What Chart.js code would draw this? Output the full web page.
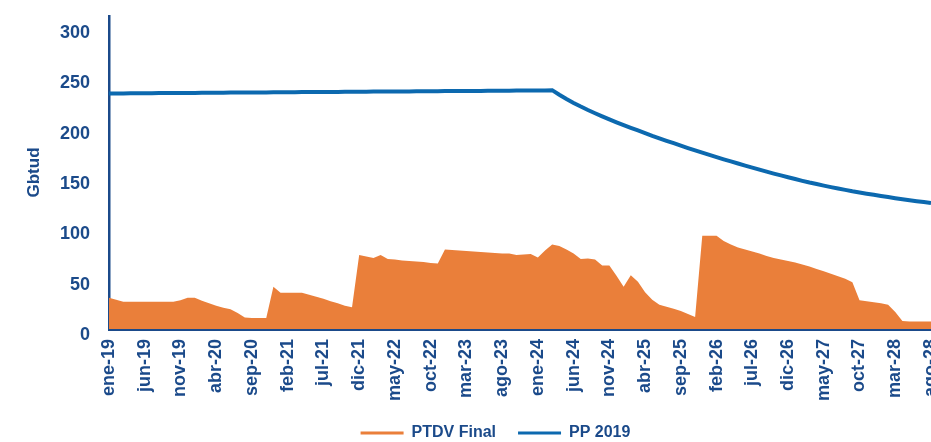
<!DOCTYPE html>
<html>
<head>
<meta charset="utf-8">
<script src="https://cdn.jsdelivr.net/npm/chart.js@4.4.1/dist/chart.umd.min.js"></script>
<style>
  html, body { margin: 0; padding: 0; background: #fff; }
  #wrap { width: 931px; height: 442px; position: relative; }
</style>
</head>
<body>
<div id="wrap"><canvas id="myChart"></canvas></div>
<script>
// months ene-19 .. ago-28
const monthNames = ['ene', 'feb', 'mar', 'abr', 'may', 'jun', 'jul', 'ago', 'sep', 'oct', 'nov', 'dic'];
const years = [19, 20, 21, 22, 23, 24, 25, 26, 27, 28];
const lastMonthIndex = 7; // ago-28

const labels = [];
years.forEach(function(y) {
  monthNames.forEach(function(m, i) {
    if (y < 28 || i <= lastMonthIndex) labels.push(m + '-' + y);
  });
});

// Gbtud
const ptdvFinal = [
  31, 29, 27, 27, 27, 27, 27, 27, 27, 27,
  28.5, 31, 31, 28, 25.5, 23, 21, 19.5, 16, 11.5,
  11, 11, 11, 42, 36, 36, 36, 36, 34, 32,
  30, 27.5, 25.5, 23, 21.5, 73.5, 72, 70.5, 73.5, 69.5,
  69, 68, 67.5, 67, 66.5, 65.5, 65, 79, 78.5, 78,
  77.5, 77, 76.5, 76, 75.5, 75, 75, 73.5, 74, 74.5,
  71, 78, 84, 82.5, 79, 75, 69.5, 70, 69, 63,
  63, 53, 42, 53.5, 47, 36.5, 29, 24, 22, 20,
  18, 15, 12, 92.7, 92.7, 92.7, 87.5, 84, 81, 79,
  77, 75, 72.5, 70.5, 69, 67.5, 66, 64, 62, 59.5,
  57.5, 55, 52.5, 50, 46.5, 28.5, 27.5, 26.5, 25.5, 24,
  17, 8, 7.5, 7.5, 7.5, 7.5
];

const pp2019 = [
  234, 234.1, 234.1, 234.2, 234.2, 234.3, 234.3, 234.4, 234.4, 234.5,
  234.5, 234.6, 234.6, 234.7, 234.7, 234.8, 234.8, 234.9, 234.9, 235,
  235, 235.1, 235.1, 235.2, 235.2, 235.3, 235.3, 235.4, 235.4, 235.5,
  235.5, 235.6, 235.6, 235.7, 235.7, 235.8, 235.8, 235.9, 235.9, 236,
  236, 236.1, 236.1, 236.2, 236.2, 236.3, 236.3, 236.4, 236.4, 236.5,
  236.5, 236.6, 236.6, 236.7, 236.7, 236.8, 236.8, 236.9, 236.9, 237,
  237, 237.1, 237.3, 232.7, 228.5, 224.6, 221, 217.6, 214.4, 211.3,
  208.3, 205.4, 202.6, 199.9, 197.3, 194.7, 192, 189.5, 187, 184.6,
  182.2, 179.8, 177.5, 175.2, 173, 170.8, 168.6, 166.5, 164.4, 162.4,
  160.4, 158.3, 156.3, 154.4, 152.6, 150.8, 149, 147.2, 145.5, 144,
  142.5, 141, 139.6, 138.2, 136.8, 135.6, 134.4, 133.3, 132.2, 131.1,
  130, 129, 128, 127, 126.1, 125.2
];

const yTicks = [0, 50, 100, 150, 200, 250, 300];

const navy = '#1B4A8A';
const orange = '#EA7F3A';
const blue = '#0C69AF';
const fontFamily = '"Liberation Sans", Arial, sans-serif';

// move the legend a bit to where it sits in the original
const legendShift = {
  id: 'legendShift',
  afterLayout(chart) {
    const lg = chart.legend;
    lg.left += 18;
    lg.right += 18;
  }
};

const ctx = document.querySelector('#myChart').getContext('2d');

// eslint-disable-next-line no-undef
new Chart(ctx, {
  type: 'line',
  data: {
    labels: labels,
    datasets: [{
      label: 'PTDV Final',
      data: ptdvFinal,
      fill: 'origin',
      backgroundColor: orange,
      borderColor: 'rgba(0,0,0,0)',
      borderWidth: 0,
      pointRadius: 0,
      tension: 0,
      order: 2,
    },
    {
      label: 'PP 2019',
      data: pp2019,
      fill: false,
      backgroundColor: blue,
      borderColor: blue,
      borderWidth: 4,
      pointRadius: 0,
      tension: 0,
      order: 1,
    }]
  },
  options: {
    responsive: true,
    maintainAspectRatio: false,
    animation: false,
    layout: {
      padding: { left: 24, right: 0, top: 16, bottom: 0 }
    },
    plugins: {
      tooltip: { enabled: false },
      legend: {
        position: 'bottom',
        maxHeight: 39,
        labels: {
          color: navy,
          font: { family: fontFamily, size: 16, weight: 'bold' },
          boxWidth: 43,
          boxHeight: 3,
          padding: 22,
          sort: (a, b) => a.datasetIndex - b.datasetIndex,
          generateLabels(chart) {
            // eslint-disable-next-line no-undef
            const items = Chart.defaults.plugins.legend.labels.generateLabels(chart);
            items.forEach(item => {
              const c = chart.data.datasets[item.datasetIndex].backgroundColor;
              item.fillStyle = c;
              item.strokeStyle = c;
              item.lineWidth = 0;
            });
            return items;
          }
        }
      }
    },
    scales: {
      x: {
        type: 'category',
        offset: false,
        grid: { display: false, drawTicks: false },
        border: { display: true, color: navy, width: 3 },
        ticks: {
          autoSkip: false,
          minRotation: 90,
          maxRotation: 90,
          padding: 10,
          color: navy,
          font: { family: fontFamily, size: 18, weight: 'bold' },
          callback: function(val, i) {
            return i % 5 === 0 ? this.getLabelForValue(val) : null;
          }
        },
        afterFit(scale) {
          scale.paddingLeft = 0;
          scale.paddingRight = 0;
          scale.height = 74;
        }
      },
      y: {
        min: 0,
        max: 311,
        grid: { display: false, drawTicks: false },
        border: { display: true, color: navy, width: 2.5 },
        title: {
          display: true,
          text: 'Gbtud',
          color: navy,
          font: { family: fontFamily, size: 17, weight: 'bold' },
          padding: { top: 0, bottom: 0 }
        },
        afterBuildTicks(scale) {
          scale.ticks = yTicks.map(v => ({ value: v }));
        },
        ticks: {
          padding: 19,
          labelOffset: 6,
          color: navy,
          font: { family: fontFamily, size: 18, weight: 'bold' }
        },
        afterFit(scale) {
          scale.width = 85;
          scale.paddingTop = 0;
          scale.paddingBottom = 0;
        }
      }
    }
  },
  plugins: [legendShift],
});
</script>
</body>
</html>
